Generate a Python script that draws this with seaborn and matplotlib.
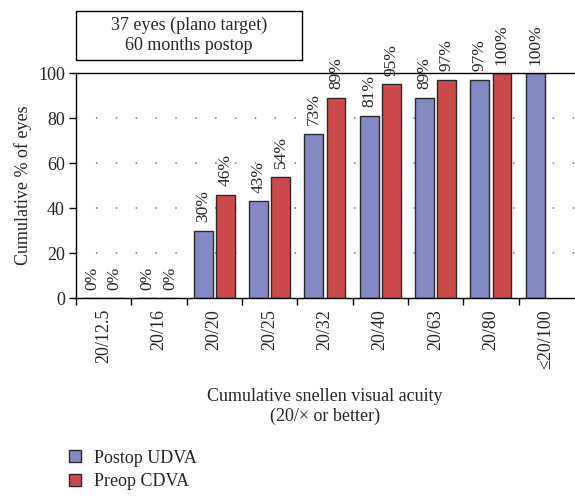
import numpy as np
import pandas as pd
import matplotlib.pyplot as plt
import seaborn as sns
from matplotlib.patches import Rectangle
from matplotlib.ticker import FixedLocator

acuity = ["20/12.5", "20/16", "20/20", "20/25", "20/32", "20/40", "20/63", "20/80", "\u226420/100"]
postop_udva = [0, 0, 30, 43, 73, 81, 89, 97, 100]
preop_cdva = [0, 0, 46, 54, 89, 95, 97, 100, np.nan]
series = ["Postop UDVA", "Preop CDVA"]
colors = ["#8389c2", "#cc4a4b"]

df = pd.DataFrame({
    "acuity": acuity * 2,
    "value": postop_udva + preop_cdva,
    "series": [series[0]] * len(acuity) + [series[1]] * len(acuity),
})

sns.set_style("white")
plt.rcParams["font.family"] = ["Liberation Serif", "DejaVu Serif"]
plt.rcParams["font.size"] = 13

fig = plt.figure(figsize=(5.75, 4.97), dpi=100)
ax = fig.add_axes([0.132, 0.4004, 0.866, 0.4527])

sns.barplot(data=df, x="acuity", y="value", hue="series", order=acuity,
            hue_order=series, palette=colors, saturation=1, width=0.8, gap=0.15,
            edgecolor="#2a2a2a", linewidth=1, ax=ax, legend=True)

# value labels
for cont in ax.containers:
    for bar in cont:
        h = bar.get_height()
        if np.isnan(h):
            continue
        ax.annotate(f"{h:.0f}%", (bar.get_x() + bar.get_width() / 2, h),
                    xytext=(0, 6), textcoords="offset points",
                    rotation=90, ha="center", va="bottom", fontsize=12.5)

ax.set_xlim(-0.5, len(acuity) - 0.5)
ax.set_ylim(0, 100)
ax.set_yticks([0, 20, 40, 60, 80, 100])
for yv in [20, 40, 60, 80]:
    ax.axhline(yv, color="#777777", linestyle=(0, (1, 12)), linewidth=1.1, zorder=0)

ax.set_xticks(range(len(acuity)))
ax.set_xticklabels(acuity, rotation=90)
ax.xaxis.set_minor_locator(FixedLocator(np.arange(-0.5, len(acuity) - 0.4, 1.0)[:-1]))
ax.tick_params(axis="x", which="major", length=0, pad=8, labelsize=13)
ax.tick_params(axis="x", which="minor", length=5, width=1, color="black", direction="out", bottom=True)
ax.tick_params(axis="y", length=5, width=1, color="black", direction="out", left=True, pad=3,
               labelsize=13)

for s in ["left", "top", "bottom"]:
    ax.spines[s].set_color("black")
    ax.spines[s].set_linewidth(1)
ax.spines["right"].set_visible(False)

ax.set_ylabel("Cumulative % of eyes", fontsize=13)
ax.set_xlabel("Cumulative snellen visual acuity\n(20/\u00d7 or better)", fontsize=13, labelpad=14,
              linespacing=1.2)

leg = ax.legend(loc="upper left", bbox_to_anchor=(0.092, 0.128), bbox_transform=fig.transFigure,
                frameon=False, handlelength=0.65, handleheight=0.65, handletextpad=0.75,
                labelspacing=0.35, fontsize=13)
for p in leg.get_patches():
    p.set_edgecolor("#2a2a2a")

# title box
fig.patches.append(Rectangle((76 / 575, 1 - 60 / 497), 226 / 575, 49 / 497,
                             transform=fig.transFigure, fill=False, edgecolor="black",
                             linewidth=1))
fig.text(189 / 575, 1 - 35.5 / 497, "37 eyes (plano target)\n60 months postop",
         ha="center", va="center", fontsize=13, linespacing=1.2)

fig.savefig("out.png", dpi=100)
